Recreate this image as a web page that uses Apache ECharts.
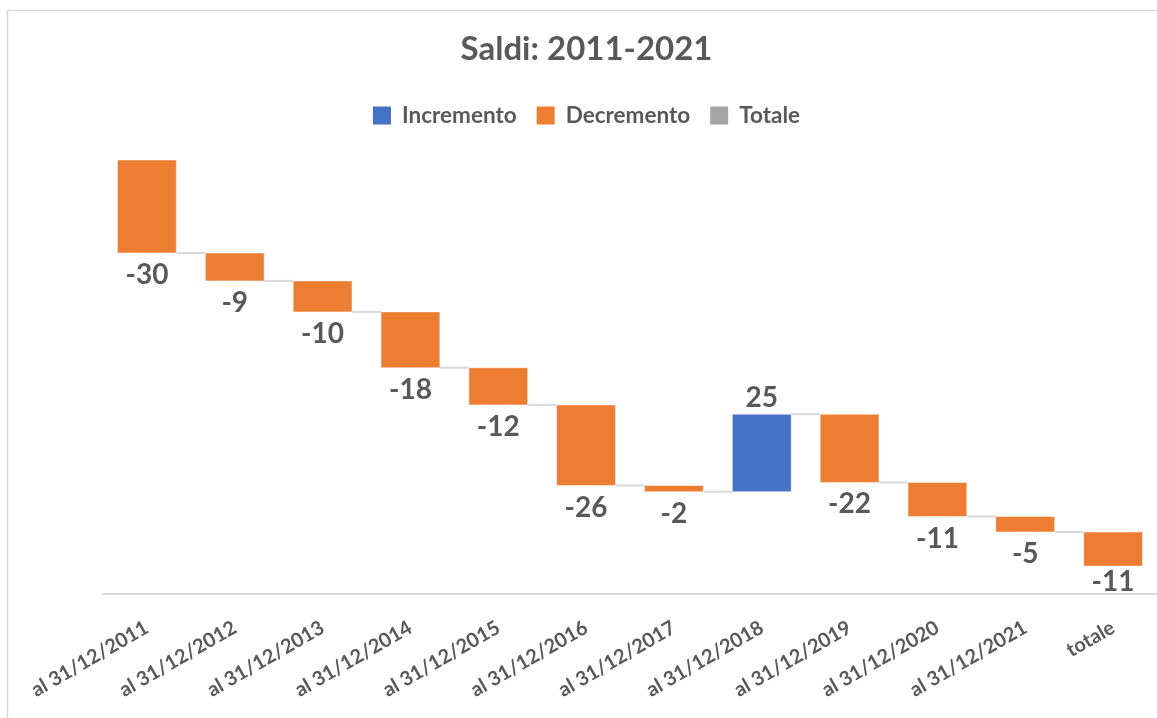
<!DOCTYPE html>
<html>
<head>
<meta charset="utf-8">
<script src="https://cdn.jsdelivr.net/npm/echarts@6/dist/echarts.min.js"></script>
<style>
html,body{margin:0;padding:0;background:#fff;overflow:hidden;}
#chart{width:1173px;height:718px;}
</style>
</head>
<body>
<div id="chart"></div>
<script>
const categories = ['al 31/12/2011','al 31/12/2012','al 31/12/2013','al 31/12/2014','al 31/12/2015','al 31/12/2016','al 31/12/2017','al 31/12/2018','al 31/12/2019','al 31/12/2020','al 31/12/2021','totale'];
const deltas = [-30, -9, -10, -18, -12, -26, -2, 25, -22, -11, -5, -11];
const seriesNames = ['Incremento', 'Decremento', 'Totale'];

const COLORS = {Incremento:'#4472C4', Decremento:'#ED7D31', Totale:'#A5A5A5'};
const TXT = '#595959';
const FONT = 'Lato';
const Y_MIN = -140, Y_MAX = 0;

// build waterfall ranges from the deltas
const incData = [], decData = [], connData = [];
let cum = 0;
deltas.forEach((d, i) => {
  const s = cum, e = cum + d;
  (d >= 0 ? incData : decData).push([i, s, e, d]);
  cum = e;
  if (i < deltas.length - 1) connData.push([i, e]);
});

const BAR_RATIO = 0.67;

function renderBar(params, api) {
  const i = api.value(0), s = api.value(1), e = api.value(2), d = api.value(3);
  const p0 = api.coord([i, s]), p1 = api.coord([i, e]);
  const axisY = api.coord([i, Y_MIN])[1];
  const w = api.size([1, 0])[0] * BAR_RATIO;
  const top = Math.min(p0[1], p1[1]), h = Math.abs(p1[1] - p0[1]);
  const ly = d < 0 ? Math.min(top + h + 8, axisY - 26) : top - 2;
  return {
    type: 'group',
    children: [
      {type: 'rect', shape: {x: p0[0] - w / 2, y: top, width: w, height: h},
       style: {fill: api.visual('color'), stroke: 'rgba(255,255,255,0.5)', lineWidth: 1}},
      {type: 'text', style: {
        text: String(d), x: p0[0], y: ly,
        align: 'center', verticalAlign: d < 0 ? 'top' : 'bottom',
        font: 'bold 28px ' + FONT, fill: TXT}}
    ]
  };
}

function renderConn(params, api) {
  const i = api.value(0), lv = api.value(1);
  const a = api.coord([i, lv]), b = api.coord([i + 1, lv]);
  const w = api.size([1, 0])[0] * BAR_RATIO;
  return {type: 'line', shape: {x1: a[0] + w / 2, y1: a[1], x2: b[0] - w / 2, y2: b[1]},
          style: {stroke: '#D9D9D9', lineWidth: 2}};
}

const chart = echarts.init(document.getElementById('chart'));
chart.setOption({
  animation: false,
  backgroundColor: '#fff',
  title: {
    text: 'Saldi: 2011-2021', left: 'center', top: 28,
    textStyle: {fontFamily: FONT, fontWeight: 'bold', fontSize: 33, color: TXT}
  },
  legend: {
    data: seriesNames, top: 99, left: 'center',
    icon: 'rect', itemWidth: 18, itemHeight: 18, itemGap: 20,
    textStyle: {fontFamily: FONT, fontWeight: 'bold', fontSize: 22.5, color: TXT, padding: [0, 0, 0, 6]}
  },
  graphic: [{
    type: 'rect', shape: {x: 7.5, y: 10.5, width: 1300, height: 900},
    style: {fill: 'none', stroke: '#D9D9D9', lineWidth: 1.5}, silent: true, z: -1
  }],
  grid: {left: 103, right: 16, top: 160, bottom: 124},
  xAxis: {
    type: 'category', data: categories,
    axisLine: {onZero: false, lineStyle: {color: '#D9D9D9', width: 2}},
    axisTick: {show: false},
    axisLabel: {rotate: 30, interval: 0, margin: 32, fontFamily: FONT, fontWeight: 'bold', fontSize: 20, color: TXT}
  },
  yAxis: {type: 'value', min: Y_MIN, max: Y_MAX, show: false, splitLine: {show: false}},
  series: [
    {name: 'Incremento', type: 'custom', renderItem: renderBar, data: incData,
     itemStyle: {color: COLORS.Incremento}, encode: {x: 0, y: [1, 2]}, z: 3},
    {name: 'Decremento', type: 'custom', renderItem: renderBar, data: decData,
     itemStyle: {color: COLORS.Decremento}, encode: {x: 0, y: [1, 2]}, z: 3},
    {name: 'Totale', type: 'custom', renderItem: renderBar, data: [],
     itemStyle: {color: COLORS.Totale}, encode: {x: 0, y: [1, 2]}},
    {name: 'conn', type: 'custom', renderItem: renderConn, data: connData,
     encode: {x: 0, y: 1}, silent: true, z: 2}
  ]
});
</script>
</body>
</html>
